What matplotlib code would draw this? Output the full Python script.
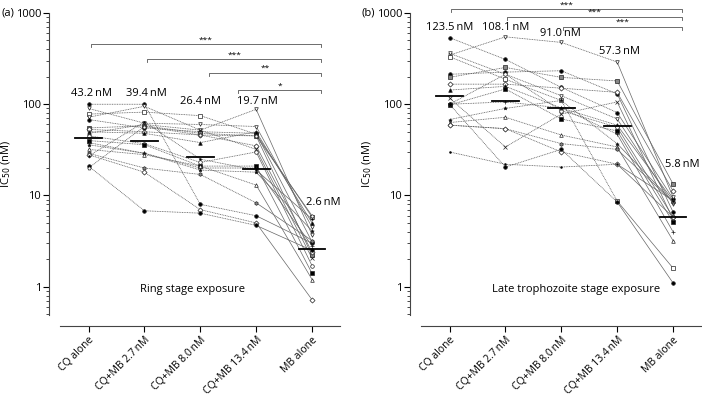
import numpy as np
import matplotlib
matplotlib.use("Agg")
import matplotlib.pyplot as plt
from matplotlib.ticker import FixedLocator, LogLocator, NullFormatter

plt.rcParams['font.family'] = ['Open Sans', 'DejaVu Sans']
plt.rcParams['font.size'] = 8

categories = ['CQ alone', 'CQ+MB 2.7\u2009nM', 'CQ+MB 8.0\u2009nM',
              'CQ+MB 13.4\u2009nM', 'MB alone']

# panel (a): ring stage, one entry per isolate
ring_cq = [100, 90, 78, 72, 68, 55, 53, 50, 48, 45, 40, 38, 36, 32, 29, 28, 27, 21, 20]
ring_mb27 = [100, 62, 82, 95, 55, 58, 50, 48, 60, 37, 36, 29, 29, 28, 20, 18, 64, 6.8, 57]
ring_mb80 = [8.0, 60, 75, 52, 50, 48, 46, 38, 52, 23, 21, 20, 19, 21, 17, 7.0, 25, 6.4, 46]
ring_mb134 = [6.0, 57, 47, 88, 48, 45, 35, 50, 32, 30, 21, 20, 18, 13, 8.3, 5.0, 19, 4.7, 45]
ring_mb = [3.0, 4.5, 5.8, 3.7, 3.1, 2.2, 2.4, 5.0, 2.05, 1.7, 1.4, 2.8, 4.1, 1.2, 3.2, 0.72, 5.5, 2.5, 6.0]
ring_medians = [43.2, 39.4, 26.4, 19.7, 2.6]
ring_labels = ['43.2\u2009nM', '39.4\u2009nM', '26.4\u2009nM', '19.7\u2009nM', '2.6\u2009nM']

# panel (b): late trophozoite stage
troph_cq = [537, 345, 332, 362, 213, 197, 166, 143, 117, 100, 98, 100, 68, 63, 59, 59, 30, 100]
troph_mb27 = [310, 548, 188, 213, 225, 253, 166, 157, 34, 213, 147, 106, 90, 72, 54, 54, 22, 20.5]
troph_mb80 = [153, 476, 110, 124, 233, 197, 150, 91, 78, 85, 69, 91, 110, 46, 37, 30, 20.5, 32]
troph_mb134 = [81, 290, 8.7, 69, 130, 180, 135, 59, 106, 56, 51, 47, 37, 34, 32, 22, 22, 8.5]
troph_mb = [9.2, 9.6, 1.6, 8.1, 6.6, 13.4, 11.2, 8.8, 5.5, 5.8, 5.1, 4.0, 8.5, 3.2, 8.5, 5.8, 8.8, 1.1]
troph_medians = [123.5, 108.1, 91.0, 57.3, 5.8]
troph_labels = ['123.5\u2009nM', '108.1\u2009nM', '91.0\u2009nM', '57.3\u2009nM', '5.8\u2009nM']

ring_brackets = [(0.04, 455, '***'), (1.05, 311, '***'), (2.15, 221, '**'), (2.68, 143, '*')]
troph_brackets = [(0.02, 1097, '***'), (1.03, 913, '***'), (2.03, 703, '***')]

markers = [('o', 'k'), ('v', 'w'), ('s', 'w'), ('v', 'w'), ('o', 'k'), ('s', '#888'),
           ('D', 'w'), ('^', 'k'), ('x', 'k'), ('o', 'w'), ('s', 'k'), ('+', 'k'),
           ('*', 'k'), ('^', 'w'), ('h', '#888'), ('D', 'w'), ('.', 'k'), ('o', 'k'), ('p', 'w')]

fig = plt.figure(figsize=(7.02, 3.96), dpi=100)
ax_a = fig.add_axes([60 / 702, 1 - 315 / 396, 280 / 702, 302 / 396])
ax_b = fig.add_axes([421 / 702, 1 - 315 / 396, 280 / 702, 302 / 396])


def draw_panel(ax, cols, medians, labels, label_pos, brackets, note, note_x):
    x = np.arange(5)
    data = np.array(cols).T
    for i, row in enumerate(data):
        m, fc = markers[i % len(markers)]
        ax.plot(x[:4], row[:4], color='#555555', lw=0.55, ls=(0, (1.2, 1.0)), zorder=2)
        ax.plot(x[3:], row[3:], color='#666666', lw=0.5, zorder=2)
        ax.plot(x, row, ls='none', marker=m, ms=2.6, mfc=fc, mec='#222222', mew=0.5, zorder=3)
    for i, med in enumerate(medians):
        ax.plot([i - 0.24, i + 0.24], [med, med], color='k', lw=1.3, zorder=4)
    for (lx, ly), t in zip(label_pos, labels):
        ax.text(lx, ly, t, ha='center', va='center', fontsize=8)
    for left, y, stars in brackets:
        right = 4.16
        ax.plot([left, left, right, right], [y / 1.08, y, y, y / 1.08], color='#555555',
                lw=0.6, clip_on=False)
        ax.text((left + right) / 2, y * 1.02, stars, ha='center', va='bottom', fontsize=6,
                clip_on=False)
    ax.text(note_x, 0.94, note, ha='center', va='center', fontsize=8)

    ax.set_yscale('log')
    ax.set_ylim(0.49, 1000)
    ax.set_xlim(-0.51, 4.5)
    ax.yaxis.set_major_locator(FixedLocator([1, 10, 100, 1000]))
    ax.set_yticklabels(['1', '10', '100', '1000'])
    ax.yaxis.set_minor_locator(LogLocator(base=10, subs=np.arange(2, 10)))
    ax.yaxis.set_minor_formatter(NullFormatter())
    ax.set_xticks(x)
    ax.set_xticklabels(categories)
    for s in ['top', 'right']:
        ax.spines[s].set_visible(False)
    ax.spines['left'].set_position(('outward', 8))
    ax.spines['bottom'].set_position(('outward', 8))
    for s in ['left', 'bottom']:
        ax.spines[s].set_linewidth(0.8)
        ax.spines[s].set_color('#444444')
    ax.tick_params(axis='y', which='major', length=4, width=0.8, pad=1.5, labelsize=8)
    ax.tick_params(axis='y', which='minor', length=2, width=0.5)
    ax.tick_params(axis='x', length=4, width=0.8, pad=2, labelsize=7.5)
    for lab in ax.get_xticklabels():
        lab.set_rotation(45)
        lab.set_ha('right')
        lab.set_rotation_mode('anchor')
    ax.set_ylabel('IC$_{50}$ (nM)', fontsize=8, labelpad=2)
    ax.patch.set_alpha(0)


draw_panel(ax_a, [ring_cq, ring_mb27, ring_mb80, ring_mb134, ring_mb], ring_medians, ring_labels,
           [(0.06, 132), (1.03, 132), (2.01, 108), (3.03, 108), (4.21, 8.3)],
           ring_brackets, 'Ring stage exposure', 1.86)
draw_panel(ax_b, [troph_cq, troph_mb27, troph_mb80, troph_mb134, troph_mb], troph_medians,
           troph_labels,
           [(0.0, 698), (1.0, 698), (1.99, 600), (3.05, 381), (4.17, 22.1)],
           troph_brackets, 'Late trophozoite stage exposure', 2.26)

fig.text(1 / 702, 1 - 13 / 396, '(a)', ha='left', va='center', fontsize=8)
fig.text(362 / 702, 1 - 13 / 396, '(b)', ha='left', va='center', fontsize=8)

fig.savefig('out.png', dpi=100)
